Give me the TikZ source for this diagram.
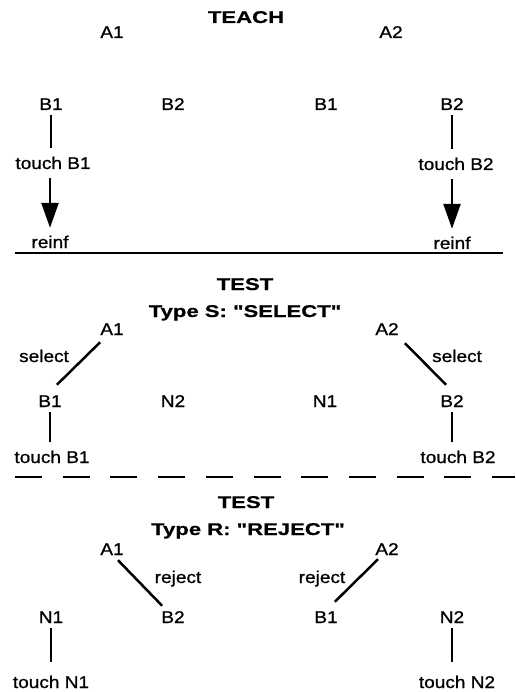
\documentclass[tikz,border=0pt]{standalone}
\usepackage{fontspec}
\setmainfont{Liberation Sans}[FakeStretch=1.12, FakeBold=0.9]
\newfontfamily\headfont{Liberation Sans Bold}[FakeStretch=1.3, FakeBold=0.6]
\usetikzlibrary{arrows.meta,calc}

\begin{document}
\begin{tikzpicture}[x=1pt, y=-1pt, font=\fontsize{17}{20}\selectfont,
	every node/.style={anchor=base, inner sep=3pt, text height=12pt, text depth=0pt},
	head/.style={font=\fontsize{17}{20}\selectfont\headfont},
	rule/.style={line width=2.5pt},
	link/.style={rule, shorten <=2pt, shorten >=6pt},
	reinforce/.style={rule, -{Triangle[length=25pt,width=17pt]}, shorten <=6pt, shorten >=5pt}]
	\useasboundingbox (0,0) rectangle (515,692);

	% teaching trials
	\node [head] (teach) at (246,23) {TEACH};
	\node (a1) at (112,38) {A1};
	\node (a2) at (391,38) {A2};
	\node (b1) at (51,110) {B1};
	\node (b2) at (173,110) {B2};
	\node (b1r) at (326,110) {B1};
	\node (b2r) at (452,110) {B2};
	\node (t1) at (53,169) {touch B1};
	\node (t2) at (456,170) {touch B2};
	\node (r1) at (50,248) {reinf};
	\node (r2) at (452,249) {reinf};
	\draw [link] (b1) -- (b1 |- t1.north);
	\draw [link] (b2r) -- (b2r |- t2.north);
	\draw [reinforce] (r1 |- t1.south) -- (r1);
	\draw [reinforce] (r2 |- t2.south) -- (r2);
	\draw [rule] (15,253) -- (503,253);

	% select test
	\node [head] (test1) at (245,290) {TEST};
	\node [head] (types) at (245,317) {Type S: "SELECT"};
	\node (sa1) at (112,335) {A1};
	\node (sa2) at (387,335) {A2};
	\node (sb1) at (50,407) {B1};
	\node (sn2) at (173,407) {N2};
	\node (sn1) at (325,407) {N1};
	\node (sb2) at (452,407) {B2};
	\node (st1) at (52,463) {touch B1};
	\node (st2) at (458,463) {touch B2};
	\node (sel1) at (44,362) {select};
	\node (sel2) at (457,362) {select};
	\draw [rule] ($(sa1.south west)+(3,4)$) -- ($(sb1.north east)+(-8,-7)$);
	\draw [rule] ($(sa2.south east)+(3,5)$) -- ($(sb2.north west)+(9,-7)$);
	\draw [link] (sb1) -- (sb1 |- st1.north);
	\draw [link] (sb2) -- (sb2 |- st2.north);
	\draw [rule, dash pattern=on 27pt off 20.7pt] (15,477) -- (515,477);

	% reject test
	\node [head] (test2) at (246,508) {TEST};
	\node [head] (typer) at (248,535) {Type R: "REJECT"};
	\node (ra1) at (112,555) {A1};
	\node (ra2) at (387,555) {A2};
	\node (rn1) at (51,623) {N1};
	\node (rb2) at (173,623) {B2};
	\node (rb1) at (326,623) {B1};
	\node (rn2) at (452,623) {N2};
	\node (rt1) at (51,688) {touch N1};
	\node (rt2) at (457,688) {touch N2};
	\node (rej1) at (178,583) {reject};
	\node (rej2) at (322,583) {reject};
	\draw [rule] ($(ra1.south)+(6,2)$) -- ($(rb2.north west)+(4,-2)$);
	\draw [rule] ($(ra2.south)+(-9,1)$) -- ($(rb1.north east)+(-6,-6)$);
	\draw [link, shorten >=11pt] (rn1) -- (rn1 |- rt1.north);
	\draw [link, shorten >=11pt] (rn2) -- (rn2 |- rt2.north);
\end{tikzpicture}
\end{document}
